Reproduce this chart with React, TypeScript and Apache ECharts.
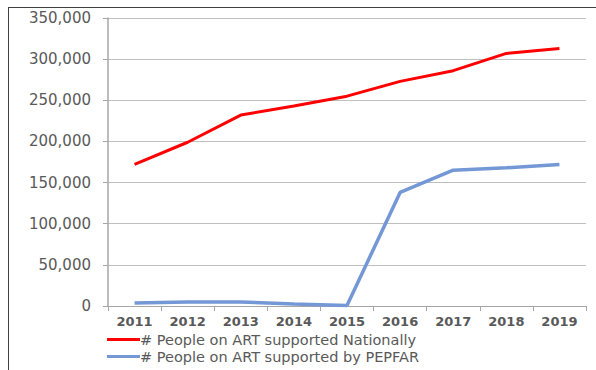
import React, { useEffect, useRef } from "react";
import * as echarts from "echarts";

const years = ["2011", "2012", "2013", "2014", "2015", "2016", "2017", "2018", "2019"];
const national = [172000, 199000, 232000, 243000, 255000, 273000, 286000, 307000, 313000];
const pepfar = [3500, 5000, 5000, 2500, 500, 138000, 165000, 168000, 172000];
const nationalName = "# People on ART supported Nationally";
const pepfarName = "# People on ART supported by PEPFAR";

export default function App() {
  const ref = useRef<HTMLDivElement>(null);
  useEffect(() => {
    const chart = echarts.init(ref.current!, null, { renderer: "svg" });
    const font = "DejaVu Sans, sans-serif";
    chart.setOption({
      animation: false,
      grid: { left: 108, right: 10, top: 18, bottom: 64 },
      graphic: [
        { type: "line", shape: { x1: 8.5, y1: 7, x2: 8.5, y2: 370 }, style: { stroke: "#404040", lineWidth: 1 } },
        { type: "line", shape: { x1: 8, y1: 7.5, x2: 596, y2: 7.5 }, style: { stroke: "#404040", lineWidth: 1 } },
      ],
      legend: {
        orient: "vertical",
        left: 107,
        top: 332,
        padding: 0,
        itemWidth: 33,
        itemHeight: 3,
        itemGap: 2,
        icon: "rect",
        textStyle: { fontFamily: font, fontSize: 14.5, lineHeight: 15, color: "#595959", padding: [0, 0, 0, -5] },
        data: [nationalName, pepfarName],
      },
      xAxis: {
        type: "category",
        data: years,
        boundaryGap: true,
        axisLine: { lineStyle: { color: "#a6a6a6", width: 1 } },
        axisTick: { show: true, length: 5, lineStyle: { color: "#a6a6a6" } },
        axisLabel: { fontFamily: font, fontSize: 13, fontWeight: "bold", color: "#595959", margin: 9 },
      },
      yAxis: {
        type: "value",
        min: 0,
        max: 350000,
        interval: 50000,
        axisLine: { show: true, lineStyle: { color: "#a6a6a6", width: 1.5 } },
        axisTick: { show: true, length: 5, lineStyle: { color: "#a6a6a6" } },
        splitLine: { lineStyle: { color: "#bfbfbf", width: 1 } },
        axisLabel: {
          fontFamily: font,
          fontSize: 15,
          color: "#595959",
          margin: 17,
          formatter: (v: number) => v.toLocaleString("en-US"),
        },
      },
      series: [
        {
          name: nationalName,
          type: "line",
          data: national,
          symbol: "none",
          lineStyle: { color: "#ff0000", width: 3 },
          itemStyle: { color: "#ff0000" },
        },
        {
          name: pepfarName,
          type: "line",
          data: pepfar,
          symbol: "none",
          lineStyle: { color: "#7498d6", width: 3.5 },
          itemStyle: { color: "#7498d6" },
        },
      ],
    });
    return () => chart.dispose();
  }, []);
  return <div ref={ref} style={{ width: 596, height: 370, position: "absolute", left: 0, top: 0, background: "#fff" }} />;
}
